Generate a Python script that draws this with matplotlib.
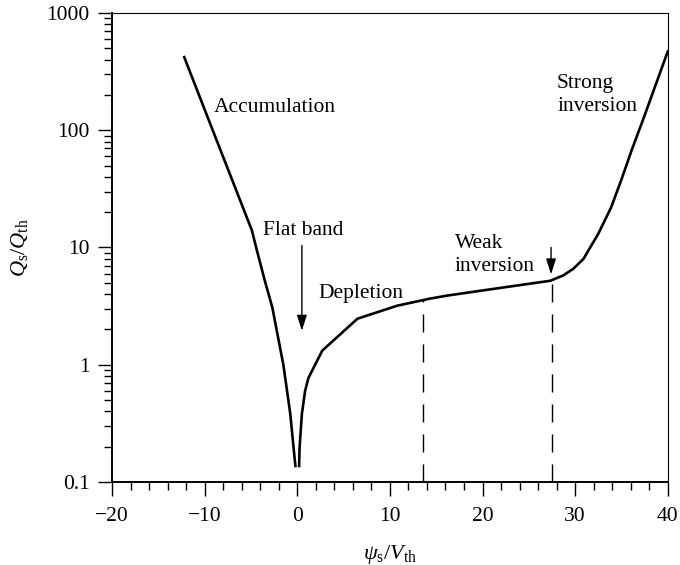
import numpy as np
import matplotlib
matplotlib.use("Agg")
import matplotlib.pyplot as plt
from matplotlib.ticker import FixedLocator, LogLocator, NullFormatter, MultipleLocator

plt.rcParams['font.family'] = ['Liberation Serif', 'DejaVu Serif']
plt.rcParams['mathtext.fontset'] = 'custom'
plt.rcParams['mathtext.rm'] = 'Liberation Serif'
plt.rcParams['mathtext.it'] = 'Liberation Serif:style=italic'
plt.rcParams['mathtext.bf'] = 'Liberation Serif:weight=bold'
plt.rcParams['axes.unicode_minus'] = True

# Accumulation branch (psi_s/V_th < 0)
acc_x = [-12.2, -10.5, -8.7, -6.5, -4.9, -4.35, -3.5, -2.7, -1.5, -0.75, -0.4, -0.2]
acc_y = [420, 190, 82, 29.5, 14, 9.4, 5.2, 3.1, 1.0, 0.38, 0.196, 0.137]

# Depletion / inversion branch (psi_s/V_th > 0)
inv_x = [0.2, 0.25, 0.5, 0.85, 1.2, 2.7, 6.5, 10.8, 14.3, 16.2, 20, 25, 27.3,
         28.7, 29.8, 30.9, 32.5, 33.9, 35.0, 36.1, 37.3, 40.0]
inv_y = [0.137, 0.196, 0.38, 0.6, 0.77, 1.32, 2.47, 3.19, 3.66, 3.89, 4.3, 4.9, 5.2,
         5.77, 6.58, 8.0, 13.1, 22.1, 38, 67.5, 121, 470]

# Region boundaries (dashed markers)
bound_x = [13.6, 27.5]
bound_y = [3.62, 5.25]

ytick_vals = [0.1, 1, 10, 100, 1000]
ytick_labels = ['0.1', '1', '10', '100', '1000']
xtick_vals = [-20, -10, 0, 10, 20, 30, 40]

fig = plt.figure(figsize=(6.8, 5.65), dpi=100)
ax = fig.add_axes([0.1647, 0.1469, 0.8173, 0.8301])

ax.plot(acc_x, acc_y, color='black', lw=1.9, solid_joinstyle='round')
ax.plot(inv_x, inv_y, color='black', lw=1.9, solid_joinstyle='round')

for bx, by in zip(bound_x, bound_y):
    ax.plot([bx, bx], [0.1, by], color='black', lw=1.0, linestyle=(0, (13, 8.6)))

ax.set_yscale('log')
ax.set_xlim(-20, 40)
ax.set_ylim(0.1, 1000)

ax.yaxis.set_major_locator(FixedLocator(ytick_vals))
ax.set_yticklabels(ytick_labels)
ax.yaxis.set_minor_locator(LogLocator(base=10, subs=np.arange(2, 10)))
ax.yaxis.set_minor_formatter(NullFormatter())
ax.xaxis.set_major_locator(FixedLocator(xtick_vals))
ax.xaxis.set_minor_locator(MultipleLocator(2))

ax.tick_params(which='major', direction='out', length=10, width=1.0, labelsize=15.5)
ax.tick_params(which='minor', direction='out', length=5.8, width=1.0)
ax.tick_params(axis='x', which='major', pad=8)
ax.tick_params(axis='y', which='major', pad=6)

for side in ['left', 'bottom']:
    ax.spines[side].set_linewidth(1.4)
for side in ['top', 'right']:
    ax.spines[side].set_linewidth(0.8)

ax.set_xlabel(r'$\psi_{\rm s}/V_{\rm th}$', fontsize=16, labelpad=12)
ax.set_ylabel(r'$Q_{\rm s}/Q_{\rm th}$', fontsize=16)
ax.yaxis.set_label_coords(-0.148, 0.5)

fs = 15.5
ax.text(-9.06, 157, 'Accumulation', fontsize=fs, ha='left', va='center')
ax.text(0.6, 14, 'Flat band', fontsize=fs, ha='center', va='center')
ax.text(2.27, 4.05, 'Depletion', fontsize=fs, ha='left', va='center')
ax.text(17.0, 8.6, 'Weak\ninversion', fontsize=fs, ha='left', va='center', linespacing=1.3)
ax.text(28.05, 200, 'Strong\ninversion', fontsize=fs, ha='left', va='center', linespacing=1.3)

arrow = dict(arrowstyle='-|>,head_length=0.94,head_width=0.3', color='black', lw=1.0,
             mutation_scale=10, shrinkA=0, shrinkB=0)
ax.annotate('', xy=(0.5, 1.95), xytext=(0.5, 10.4), arrowprops=arrow)
ax.annotate('', xy=(27.4, 5.9), xytext=(27.4, 10.0), arrowprops=arrow)

fig.savefig('out.png', dpi=100)
